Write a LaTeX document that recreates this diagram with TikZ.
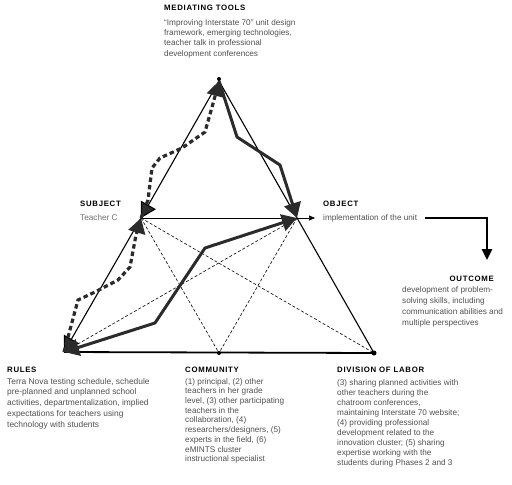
\documentclass[tikz,border=0pt]{standalone}
\usepackage{fontspec}
\setmainfont{Liberation Sans}
\newfontfamily\headfont[LetterSpace=9]{Liberation Sans}
\usetikzlibrary{arrows.meta}
\definecolor{txt}{HTML}{505050}
\definecolor{lighttxt}{HTML}{707070}
\definecolor{ink}{HTML}{2b2b2b}
\tikzset{
 head/.style={font=\headfont\bfseries\fontsize{7.8}{9}\selectfont, anchor=north west, inner sep=0pt, text=black},
 body/.style={font=\fontsize{8.2}{10.3}\selectfont, anchor=north west, inner sep=0pt, align=left, text=txt},
 side/.style={line width=1.1pt, draw=black},
 thindash/.style={dash pattern=on 3pt off 2pt, line width=0.6pt},
 thickpath/.style={line width=3pt, draw=ink, line join=round},
 thickdash/.style={line width=3.2pt, draw=ink, dash pattern=on 4.5pt off 3pt},
 bigtip/.style={-{Triangle[length=15pt,width=17pt,fill=ink]}},
 vdot/.style={circle, fill=black, inner sep=0pt, minimum size=4pt}
}
\begin{document}
\begin{tikzpicture}[x=1pt,y=-1pt]
\useasboundingbox (0,0) rectangle (512,485);
% vertices
\coordinate (T) at (219,81);
\coordinate (S) at (141,218);
\coordinate (O) at (297,218);
\coordinate (R) at (64,352);
\coordinate (C) at (219,353);
\coordinate (D) at (374,353);
\coordinate (Oend) at (315,218);
% thin sides
\draw[side] (T) -- (D);
\draw[line width=1.8pt] (R) -- (D);
\draw[side, bigtip] (T) -- (S);
\draw[side, bigtip] (S) -- (R);
\draw[line width=0.6pt, -{Triangle[length=6pt,width=5pt]}] (S) -- (Oend);
% thin dashed
\draw[thindash] (S) -- (C);
\draw[thindash] (S) -- (D);
\draw[thindash] (O) -- (R);
\draw[thindash] (O) -- (C);
% thick dashed
\draw[thickdash, bigtip] (R) -- (78,300) -- (95,292) -- (118,280) -- (130,267) -- (136,235) -- (S);
\draw[thickdash, bigtip] (S) -- (148,200) -- (152,168) -- (160,158) -- (182,148) -- (205,132) -- (214,100) -- (T);
% thick solid
\draw[thickpath, bigtip] (T) -- (237,137) -- (280,165) -- (O);
\draw[thickpath, {Triangle[length=15pt,width=17pt,fill=ink]}-{Triangle[length=15pt,width=17pt,fill=ink]}] (R) -- (155,323) -- (205,248) -- (O);
% dots
\node[vdot] (Td) at (219,79) {};
\node[vdot] (Cd) at (C) {};
\node[vdot, minimum size=5pt] (Dd) at (D) {};
% outcome arrow
\coordinate (oa1) at (425,218);
\coordinate (oa2) at (487,260);
\draw[line width=2.5pt, -{Triangle[length=11pt,width=10pt]}] (oa1) -| (oa2);
% texts
\node[head] (mth) at (164,4.5) {MEDIATING TOOLS};
\node[body] (mtb) at (164,19) {``Improving Interstate 70'' unit design\\framework, emerging technologies,\\teacher talk in professional\\development conferences};
\node[head] (sh) at (80,200.5) {SUBJECT};
\node[body, text=lighttxt] (sb) at (80,214) {Teacher C};
\node[head] (oh) at (323,200.5) {OBJECT};
\node[body] (ob) at (323,214) {implementation of the unit};
\node[head, anchor=north east] (outh) at (494,275.5) {OUTCOME};
\node[body, font=\fontsize{8.2}{11}\selectfont] (outb) at (402,286) {development of problem-\\solving skills, including\\communication abilities and\\multiple perspectives};
\node[head] (rh) at (7,366.5) {RULES};
\node[body, font=\fontsize{8.4}{10.7}\selectfont] (rb) at (7,378) {Terra Nova testing schedule, schedule\\pre-planned and unplanned school\\activities, departmentalization, implied\\expectations for teachers using\\technology with students};
\node[head] (ch) at (185,366.5) {COMMUNITY};
\node[body, font=\fontsize{8.2}{9.7}\selectfont] (cb) at (185,378) {(1) principal, (2) other\\teachers in her grade\\level, (3) other participating\\teachers in the\\collaboration, (4)\\researchers/designers, (5)\\experts in the field, (6)\\eMINTS cluster\\instructional specialist};
\node[head] (dh) at (337,366.5) {DIVISION OF LABOR};
\node[body, font=\fontsize{8.2}{10.1}\selectfont] (db) at (337,379) {(3) sharing planned activities with\\other teachers during the\\chatroom conferences,\\maintaining Interstate 70 website;\\(4) providing professional\\development related to the\\innovation cluster; (5) sharing\\expertise working with the\\students during Phases 2 and 3};
\end{tikzpicture}
\end{document}
